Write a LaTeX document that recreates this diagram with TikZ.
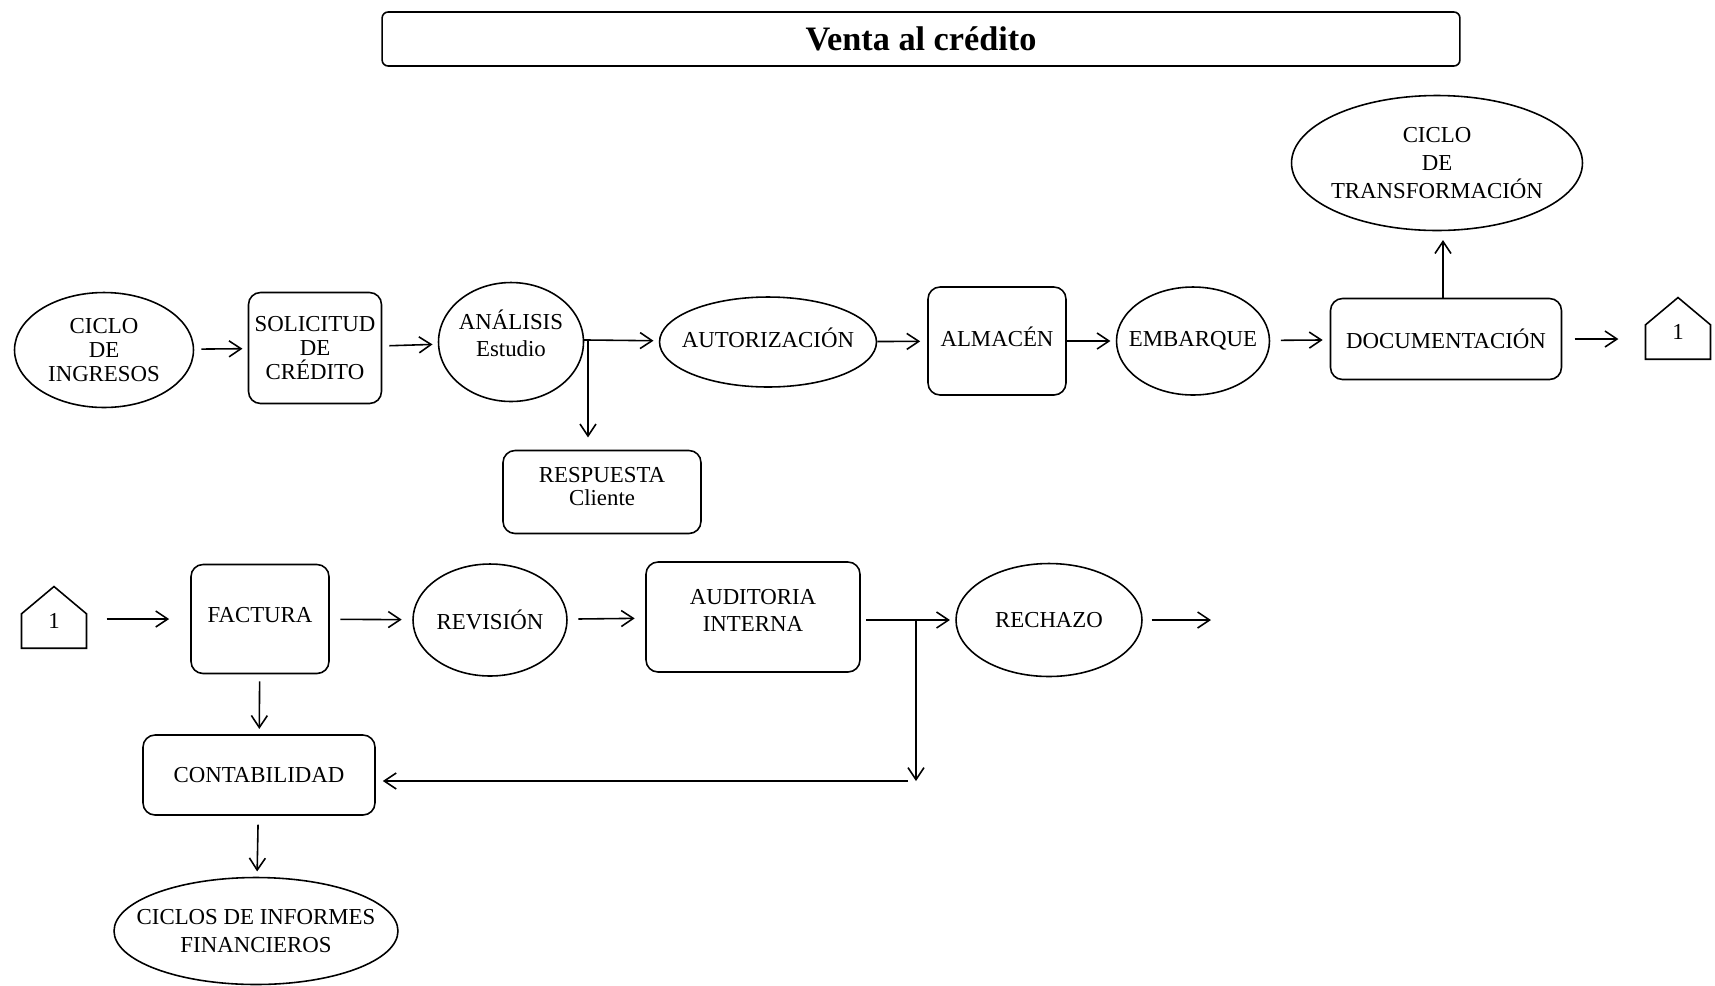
\documentclass[tikz,border=0pt]{standalone}
\usepackage{fontspec}
\setmainfont{Liberation Serif}
\usetikzlibrary{arrows.meta}
\usetikzlibrary{shapes.geometric}
\usetikzlibrary{shapes.symbols}

\tikzset{
  caja/.style={draw, line width=0.9pt, rounded corners=0.24cm, align=center, inner sep=1pt},
  elipse/.style={draw, line width=0.9pt, ellipse, align=center, inner sep=0pt},
  conector/.style={draw, line width=0.9pt, signal, signal to=north, signal from=nowhere, align=center,
    signal pointer angle=100, inner sep=0pt, minimum width=1.3cm, minimum height=0.7cm},
  flecha/.style={line width=0.9pt, -{Straight Barb[length=2.4mm,width=3.2mm]}},
  every node/.append style={font=\fontsize{13}{13.4}\selectfont}
}

\begin{document}
\begin{tikzpicture}[x=0.02cm, y=-0.02cm]
\useasboundingbox (0,0) rectangle (1715,985);

% titulo
\node[draw, line width=0.9pt, rounded corners=0.12cm, minimum width=21.56cm, minimum height=1.08cm,
  font=\fontsize{19.5}{20}\selectfont\bfseries] (titulo) at (921,39) {Venta al crédito};

% primera fila
\node[elipse, minimum width=3.58cm, minimum height=2.3cm] (ingresos) at (104,350) {CICLO\\DE\\INGRESOS};
\node[caja, minimum width=2.66cm, minimum height=2.22cm] (solicitud) at (315,348) {SOLICITUD\\DE\\CRÉDITO};
\node[elipse, minimum width=2.9cm, minimum height=2.38cm, inner xsep=-0.05cm] (analisis) at (511,342) {ANÁLISIS\\[0.08cm]Estudio\\[-3.4pt]};
\node[caja, minimum width=3.96cm, minimum height=1.66cm] (respuesta) at (602,492) {RESPUESTA\\Cliente\\[-7.2pt]};
\node[elipse, minimum width=4.34cm, minimum height=1.8cm, inner xsep=-0.25cm] (autorizacion) at (768,342) {AUTORIZACIÓN\\[-8.4pt]};
\node[caja, minimum width=2.76cm, minimum height=2.16cm] (almacen) at (997,341) {ALMACÉN\\[-8.4pt]};
\node[elipse, minimum width=3.06cm, minimum height=2.16cm, inner xsep=-0.23cm] (embarque) at (1193,341) {EMBARQUE};
\node[caja, minimum width=4.62cm, minimum height=1.62cm] (documentacion) at (1446,339) {DOCUMENTACIÓN};
\node[elipse, minimum width=5.82cm, minimum height=2.7cm, inner xsep=-0.35cm,
  font=\fontsize{13}{15.8}\selectfont] (transformacion) at (1437,163) {CICLO\\DE\\TRANSFORMACIÓN};
\node[conector] (salida) at (1678,342) {1\\[-2.4pt]};

\coordinate (bifurca) at (588,340);
\draw[flecha, shorten <=4pt, shorten >=3pt] (ingresos) -- (solicitud);
\draw[flecha, shorten <=4pt, shorten >=3pt] (solicitud) -- (analisis);
\draw[line width=0.9pt] (analisis.east |- bifurca) -- (bifurca);
\draw[flecha, shorten >=3pt] (bifurca) -- (autorizacion);
\draw[flecha, shorten >=7pt] (bifurca) -- (bifurca |- respuesta.north);
\draw[flecha, shorten >=4pt] (autorizacion) -- (almacen);
\draw[flecha, shorten >=3pt] (almacen) -- (embarque);
\draw[flecha, shorten <=6pt, shorten >=4pt] (embarque) -- (documentacion);
\draw[flecha, shorten >=5pt] (documentacion.north -| 1443,0) -- (transformacion.south -| 1443,0);
\draw[flecha, shorten <=7pt, shorten >=15pt] (documentacion.east) -- (salida.west |- documentacion.east);

% segunda fila
\node[conector] (entrada) at (54,631) {1\\[-2.4pt]};
\node[caja, minimum width=2.76cm, minimum height=2.18cm] (factura) at (260,619) {FACTURA\\[-8.4pt]};
\node[elipse, minimum width=3.08cm, minimum height=2.24cm, inner xsep=-0.05cm] (revision) at (490,620) {REVISIÓN};
\node[caja, minimum width=4.28cm, minimum height=2.2cm] (auditoria) at (753,617) {AUDITORIA\\[2.2pt]INTERNA\\[-6pt]};
\node[elipse, minimum width=3.72cm, minimum height=2.26cm] (rechazo) at (1049,620) {RECHAZO};
\node[caja, minimum width=4.64cm, minimum height=1.6cm] (contabilidad) at (259,775) {CONTABILIDAD};
\node[elipse, minimum width=5.68cm, minimum height=2.14cm, inner xsep=-0.53cm] (informes) at (256,931) {CICLOS DE INFORMES\\[2.2pt]FINANCIEROS};

\coordinate (retorno) at (916,620);
\coordinate (fin) at (1211,620);
\draw[flecha, shorten <=11pt, shorten >=12pt] (entrada.east |- factura) -- (factura);
\draw[flecha, shorten <=6pt, shorten >=6pt] (factura) -- (revision);
\draw[flecha, shorten <=6pt, shorten >=6pt] (revision) -- (auditoria);
\draw[flecha, shorten <=3pt, shorten >=3pt] (auditoria.east |- retorno) -- (rechazo);
\draw[flecha] (retorno) -- (916,781);
\draw[flecha, shorten >=4pt] (908,781) -- (contabilidad.east |- 0,781);
\draw[flecha, shorten <=5pt] (rechazo) -- (fin);
\draw[flecha, shorten <=4pt, shorten >=3pt] (factura) -- (contabilidad);
\draw[flecha, shorten <=5pt, shorten >=3pt] (contabilidad) -- (informes);

\end{tikzpicture}
\end{document}
